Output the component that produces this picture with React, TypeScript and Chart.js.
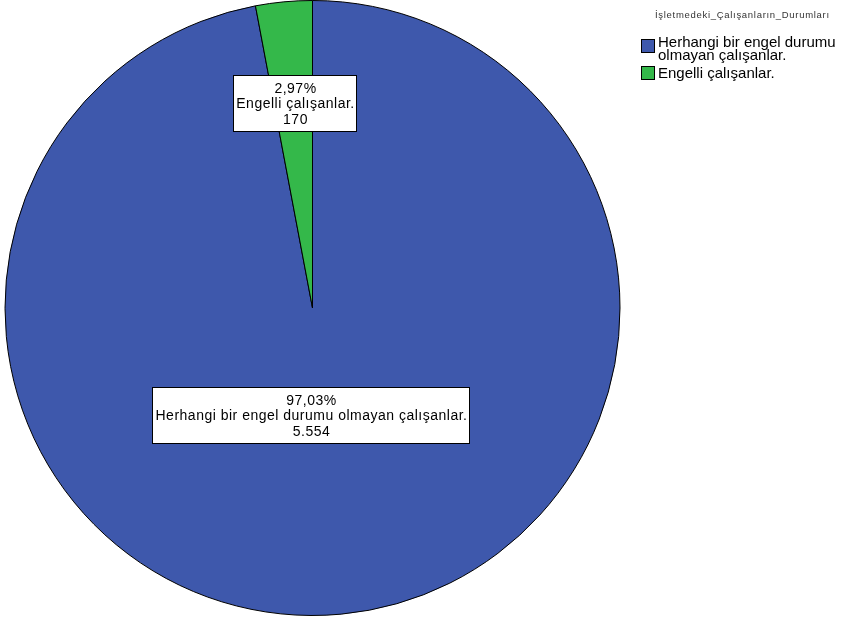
import React, { useEffect, useRef } from "react";
import { Chart, registerables } from "chart.js";

Chart.register(...registerables);

const legendTitle = "İşletmedeki_Çalışanların_Durumları";
const categories = ["Herhangi bir engel durumu olmayan çalışanlar.", "Engelli çalışanlar."];
const legendLines = [["Herhangi bir engel durumu", "olmayan çalışanlar."], ["Engelli çalışanlar."]];
const counts = [5554, 170];
const countLabels = ["5.554", "170"];
const percentLabels = ["97,03%", "2,97%"];
const colors = ["#3e58ac", "#34b84a"];

// label placement style (fraction of radius, horizontal nudge)
const labelRadiusFraction = [0.35, 0.67];
const labelNudgeX = [-12, 1];

const FONT = "Arial, 'Liberation Sans', sans-serif";

const overlayPlugin = {
  id: "overlay",
  afterDatasetsDraw(chart: any) {
    const ctx = chart.ctx as CanvasRenderingContext2D;
    const meta = chart.getDatasetMeta(0);
    ctx.save();
    meta.data.forEach((arc: any, i: number) => {
      const p = arc.getProps(["x", "y", "startAngle", "endAngle", "outerRadius"], true);
      const mid = (p.startAngle + p.endAngle) / 2;
      const d = p.outerRadius * labelRadiusFraction[i];
      const cx = p.x + Math.cos(mid) * d + labelNudgeX[i];
      const cy = p.y + Math.sin(mid) * d;
      const lines = [percentLabels[i], categories[i], countLabels[i]];
      ctx.font = `14px ${FONT}`;
      (ctx as any).letterSpacing = "0.5px";
      const w = Math.round(Math.max(...lines.map((l) => ctx.measureText(l).width)) + 5);
      const lh = 15.5;
      const h = Math.round(lh * lines.length + 9);
      const bx = Math.round(cx - w / 2) + 0.5;
      const by = Math.round(cy - h / 2) + 0.5;
      ctx.fillStyle = "#ffffff";
      ctx.fillRect(bx, by, w, h);
      ctx.strokeStyle = "#000000";
      ctx.lineWidth = 1;
      ctx.strokeRect(bx, by, w, h);
      ctx.fillStyle = "#000000";
      ctx.textAlign = "center";
      ctx.textBaseline = "middle";
      lines.forEach((l, j) => {
        ctx.fillText(l, bx + w / 2 + 0.5, by + 4.5 + lh * j + lh / 2 + 1);
      });
    });
    // legend
    ctx.textAlign = "left";
    ctx.textBaseline = "middle";
    ctx.fillStyle = "#333333";
    ctx.font = `9.5px ${FONT}`;
    (ctx as any).letterSpacing = "0.7px";
    ctx.fillText(legendTitle, 655, 15);
    let y = 39;
    legendLines.forEach((lines, i) => {
      ctx.fillStyle = colors[i];
      ctx.fillRect(641.5, y + 0.5, 13, 13);
      ctx.strokeStyle = "#000000";
      ctx.lineWidth = 1;
      ctx.strokeRect(641.5, y + 0.5, 13, 13);
      ctx.fillStyle = "#000000";
      ctx.font = `15px ${FONT}`;
      (ctx as any).letterSpacing = "0px";
      if (lines.length === 1) {
        ctx.fillText(lines[0], 658, y + 7.5);
      } else {
        lines.forEach((l, j) => {
          ctx.fillText(l, 658, y + 4 + j * 13);
        });
      }
      y += 27;
    });
    ctx.restore();
  },
};

export default function App() {
  const ref = useRef<HTMLCanvasElement>(null);
  useEffect(() => {
    const chart = new Chart(ref.current!, {
      type: "pie",
      data: {
        labels: categories,
        datasets: [
          {
            data: counts,
            backgroundColor: colors,
            borderColor: "#000000",
            borderWidth: 1,
          },
        ],
      },
      options: {
        animation: false,
        responsive: false,
        layout: { padding: { left: 4, right: 222, top: 0, bottom: 2 } },
        plugins: { legend: { display: false }, tooltip: { enabled: false } },
      },
      plugins: [overlayPlugin],
    });
    return () => chart.destroy();
  }, []);
  return (
    <div style={{ position: "absolute", left: 0, top: 0, width: 843, height: 618, background: "#fff" }}>
      <canvas ref={ref} width={843} height={618} style={{ width: 843, height: 618 }} />
    </div>
  );
}
